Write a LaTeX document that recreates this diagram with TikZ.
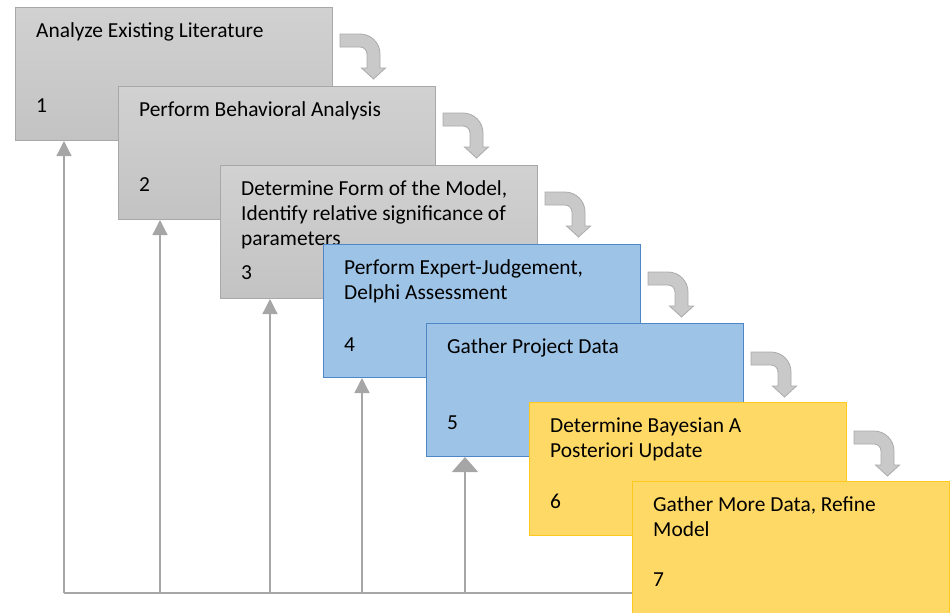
\documentclass[tikz,border=0pt]{standalone}
\usepackage{fontspec}
\setmainfont{Carlito}
\usetikzlibrary{arrows.meta}

\definecolor{graytop}{HTML}{D1D1D1}
\definecolor{graybot}{HTML}{C3C3C3}
\definecolor{grayedge}{HTML}{A8A8A8}
\definecolor{bluefill}{HTML}{9DC3E6}
\definecolor{blueedge}{HTML}{4F87C6}
\definecolor{yellowfill}{HTML}{FFD966}
\definecolor{yellowedge}{HTML}{FFC81E}
\definecolor{fbline}{HTML}{A6A6A6}
\definecolor{bendfill}{HTML}{C9C9C9}
\definecolor{bendedge}{HTML}{AAAAAA}

% stacked lines whose baseline is that of the first line
\newcommand{\linepair}[2]{\vtop{\hbox{#1}\hbox{#2}}}
\newcommand{\linetriple}[3]{\vtop{\hbox{#1}\hbox{#2}\hbox{#3}}}

\tikzset{
  stagebox/.style={line width=1pt, inner sep=0pt, minimum width=317pt,
    minimum height=133pt, anchor=north west},
  graystage/.style={stagebox, draw=grayedge, top color=graytop, bottom color=graybot},
  bluestage/.style={stagebox, draw=blueedge, fill=bluefill},
  yellowstage/.style={stagebox, draw=yellowedge, fill=yellowfill},
  lbl/.style={anchor=base west, inner sep=0pt, font=\fontsize{21.4}{25}\selectfont},
  fb/.style={draw=fbline, line width=1.3pt},
  fbtip/.style={fb, -{Triangle[width=15pt,length=15pt]}},
  fbtipwide/.style={fb, -{Triangle[width=26pt,length=15pt]}},
  bendarrow/.pic={
    \path[draw=bendedge, fill=bendfill, line width=0.8pt, line join=miter]
      (0,0) -- (20,0) .. controls (31.05,0) and (40,8.95) .. (40,20)
      -- (40,34) -- (45.5,34) -- (33.5,45) -- (21.5,34) -- (27,34) -- (27,20)
      .. controls (27,16.13) and (23.87,13) .. (20,13) -- (0,13) -- cycle;
  }
}

\begin{document}
\begin{tikzpicture}[x=1pt, y=-1pt]
\useasboundingbox (0,0) rectangle (951,613);

% stage 1
\node[graystage] (b1) at (15,7) {};
\node[lbl] (t1) at ([shift={(21,30)}]b1.north west) {Analyze Existing Literature};
\node[lbl] (n1) at ([shift={(21,105)}]b1.north west) {1};

% stage 2
\node[graystage] (b2) at (118,86) {};
\node[lbl] (t2) at ([shift={(21,30)}]b2.north west) {Perform Behavioral Analysis};
\node[lbl] (n2) at ([shift={(21,105)}]b2.north west) {2};

% stage 3
\node[graystage] (b3) at (220,165) {};
\node[lbl] (t3) at ([shift={(21,30)}]b3.north west)
  {\linetriple{Determine Form of the Model,}{Identify relative significance of}{parameters}};
\node[lbl] (n3) at ([shift={(21,114)}]b3.north west) {3};

% stage 4
\node[bluestage] (b4) at (323,244) {};
\node[lbl] (t4) at ([shift={(21,30)}]b4.north west)
  {\linepair{Perform Expert-Judgement,}{Delphi Assessment}};
\node[lbl] (n4) at ([shift={(21,107)}]b4.north west) {4};

% stage 5
\node[bluestage] (b5) at (426,323) {};
\node[lbl] (t5) at ([shift={(21,30)}]b5.north west) {Gather Project Data};
\node[lbl] (n5) at ([shift={(21,106)}]b5.north west) {5};

% stage 6
\node[yellowstage] (b6) at (529,402) {};
\node[lbl] (t6) at ([shift={(21,30)}]b6.north west)
  {\linepair{Determine Bayesian A}{Posteriori Update}};
\node[lbl] (n6) at ([shift={(21,106)}]b6.north west) {6};

% stage 7 (runs past the lower edge)
\node[yellowstage, minimum height=145pt] (b7) at (632,481) {};
\node[lbl] (t7) at ([shift={(21,30)}]b7.north west)
  {\linepair{Gather More Data, Refine}{Model}};
\node[lbl] (n7) at ([shift={(21,105)}]b7.north west) {7};

% bent arrows leading from each stage to the next
\pic at ([shift={(7,27)}]b1.north east) {bendarrow};
\pic at ([shift={(7,27)}]b2.north east) {bendarrow};
\pic at ([shift={(7,27)}]b3.north east) {bendarrow};
\pic at ([shift={(7,28)}]b4.north east) {bendarrow};
\pic at ([shift={(7,29)}]b5.north east) {bendarrow};
\pic at ([shift={(7,29)}]b6.north east) {bendarrow};

% feedback paths returning to the earlier stages
\coordinate (f1) at (64,593);
\coordinate (f2) at (160,593);
\coordinate (f3) at (270,593);
\coordinate (f4) at (362,593);
\coordinate (f5) at (465,593);
\draw[fb] (f1) -- (f1 -| b7.west);
\draw[fbtip] (f1) -- (f1 |- b1.south);
\draw[fbtip] (f2) -- (f2 |- b2.south);
\draw[fbtip] (f3) -- (f3 |- b3.south);
\draw[fbtip] (f4) -- (f4 |- b4.south);
\draw[fbtipwide] (f5) -- (f5 |- b5.south);
\end{tikzpicture}
\end{document}
